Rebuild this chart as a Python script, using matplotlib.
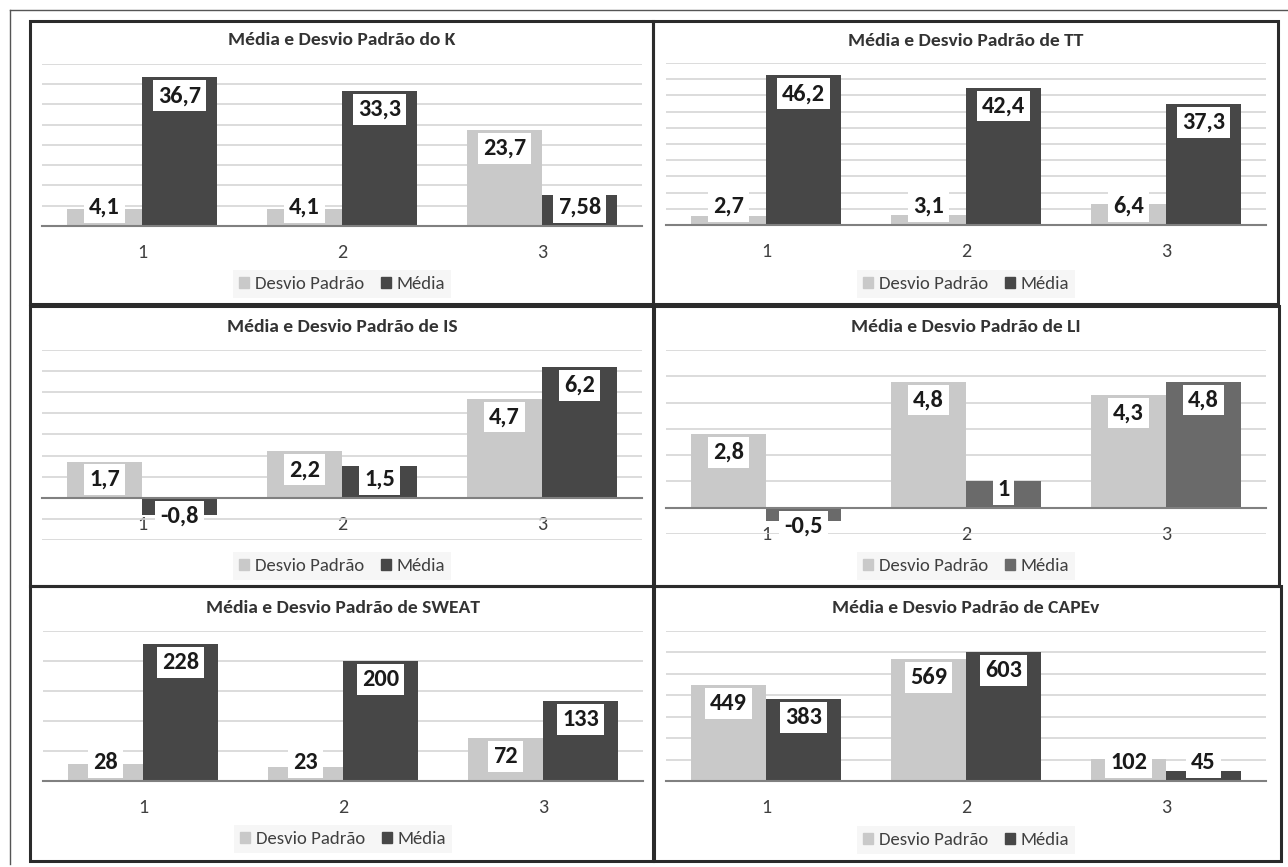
import matplotlib
matplotlib.use("Agg")
import matplotlib.pyplot as plt
from matplotlib import font_manager
from matplotlib.patches import Rectangle, Patch
from matplotlib.lines import Line2D

_installed = {f.name for f in font_manager.fontManager.ttflist}
_base = next((n for n in ('Carlito', 'Lato') if n in _installed), 'DejaVu Sans')
plt.rcParams['font.family'] = [_base, 'DejaVu Sans']

# ---- data -------------------------------------------------------------
categories = ['1', '2', '3']
series_names = ['Desvio Padrão', 'Média']

k_dp = [4.1, 4.1, 23.7]
k_media = [36.7, 33.3, 7.58]

tt_dp = [2.7, 3.1, 6.4]
tt_media = [46.2, 42.4, 37.3]

is_dp = [1.7, 2.2, 4.7]
is_media = [-0.8, 1.5, 6.2]

li_dp = [2.8, 4.8, 4.3]
li_media = [-0.5, 1, 4.8]

sweat_dp = [28, 23, 72]
sweat_media = [228, 200, 133]

cape_dp = [449, 569, 102]
cape_media = [383, 603, 45]

titles = ['Média e Desvio Padrão do K', 'Média e Desvio Padrão de TT',
          'Média e Desvio Padrão de IS', 'Média e Desvio Padrão de LI',
          'Média e Desvio Padrão de SWEAT', 'Média e Desvio Padrão de CAPEv']

# ---- styling ----------------------------------------------------------
W, H = 1288, 867
DPI = 100
C_DP = '#c9c9c9'
C_MEDIA = '#474747'
C_MEDIA_LI = '#6a6a6a'
C_GRID = '#d5d5d5'
C_AXIS = '#808080'
C_TEXT = '#404040'
C_TITLE = '#333333'

fig = plt.figure(figsize=(W / DPI, H / DPI), dpi=DPI, facecolor='white')


def fx(px):
    return px / W


def fy(py):
    return 1 - py / H


# panel layout in pixels: axes box, frame box, title y, legend y, y-range, step
panels = [
    dict(dp=k_dp, me=k_media, title=titles[0], ax=(42, 64, 642, 226),
         frame=(30, 21, 653, 304), ty=40, ly=284, ylim=(0, 40), step=5, cm=C_MEDIA),
    dict(dp=tt_dp, me=tt_media, title=titles[1], ax=(666, 63, 1266, 225),
         frame=(653, 21, 1278, 304), ty=41, ly=284, ylim=(0, 50), step=5, cm=C_MEDIA),
    dict(dp=is_dp, me=is_media, title=titles[2], ax=(42, 350, 642, 540),
         frame=(30, 306, 653, 586), ty=327, ly=566, ylim=(-2, 7), step=1, cm=C_MEDIA),
    dict(dp=li_dp, me=li_media, title=titles[3], ax=(666, 350, 1266, 534),
         frame=(654, 306, 1279, 586), ty=327, ly=566, ylim=(-1, 6), step=1, cm=C_MEDIA_LI),
    dict(dp=sweat_dp, me=sweat_media, title=titles[4], ax=(43, 631, 643, 781),
         frame=(30, 586, 653, 861), ty=608, ly=839, ylim=(0, 250), step=50, cm=C_MEDIA),
    dict(dp=cape_dp, me=cape_media, title=titles[5], ax=(666, 631, 1266, 781),
         frame=(654, 586, 1281, 861), ty=608, ly=840, ylim=(0, 700), step=100, cm=C_MEDIA),
]

BAR_W = 0.375
LABEL_BOX_PT = 21.5   # approximate height of a value label box, points
LABEL_PAD_PT = 2.5


def fmt(v):
    return f"{v:g}".replace('.', ',')


# outer thin frame (top and left)
fig.add_artist(Line2D([fx(10), fx(1288)], [fy(10), fy(10)], color='#555555', lw=1.0))
fig.add_artist(Line2D([fx(10), fx(10)], [fy(10), fy(864)], color='#555555', lw=1.0))

for p in panels:
    x0, y0, x1, y1 = p['ax']
    ax = fig.add_axes([fx(x0), fy(y1), fx(x1) - fx(x0), fy(y0) - fy(y1)])
    ymin, ymax = p['ylim']
    ax.set_xlim(0.5, 3.5)
    ax.set_ylim(ymin, ymax)
    ticks = list(range(ymin, ymax + 1, p['step']))
    ax.set_yticks(ticks)
    ax.set_yticklabels([])
    ax.tick_params(axis='y', length=0)
    ax.yaxis.grid(True, color=C_GRID, lw=1.2, zorder=0)
    ax.set_axisbelow(True)
    for s in ('top', 'right', 'left'):
        ax.spines[s].set_visible(False)
    ax.spines['bottom'].set_position(('data', 0))
    ax.spines['bottom'].set_color(C_AXIS)
    ax.spines['bottom'].set_linewidth(1.5)
    ax.spines['bottom'].set_zorder(2.5)
    ax.set_facecolor('none')

    xs = [1, 2, 3]
    ax.set_xticks(xs)
    ax.set_xticklabels(categories, fontsize=14.5, color=C_TEXT)
    ax.tick_params(axis='x', length=0, pad=13)

    x_dp = [x - BAR_W / 2 for x in xs]
    x_me = [x + BAR_W / 2 for x in xs]
    ax.bar(x_dp, p['dp'], width=BAR_W, color=C_DP, zorder=2)
    ax.bar(x_me, p['me'], width=BAR_W, color=p['cm'], zorder=2)

    # value labels: inside the bar end, or anchored at the axis when the bar is short
    ax_h_pt = (fy(y0) - fy(y1)) * H / DPI * 72
    pt_per_unit = ax_h_pt / (ymax - ymin)
    half = LABEL_PAD_PT + LABEL_BOX_PT / 2
    for xx, vals in ((x_dp, p['dp']), (x_me, p['me'])):
        for x, v in zip(xx, vals):
            sign = 1 if v >= 0 else -1
            h_pt = abs(v) * pt_per_unit
            if h_pt >= LABEL_BOX_PT + 2 * LABEL_PAD_PT:
                xy, off = (x, v), -sign * half
            else:
                xy, off = (x, 0), sign * half
            ax.annotate(fmt(v), xy=xy, xytext=(0, off), textcoords='offset points',
                        ha='center', va='center', fontsize=17.5, fontweight='bold',
                        color='#1a1a1a', zorder=5,
                        bbox=dict(boxstyle='square,pad=0.2', fc='white', ec='none'))

    # title
    cx = (x0 + x1) / 2
    fig.text(fx(cx), fy(p['ty']), p['title'], ha='center', va='center',
             fontsize=14, fontweight='bold', color=C_TITLE)

    # legend
    handles = [Patch(color=C_DP), Patch(color=p['cm'])]
    leg = ax.legend(handles, series_names, loc='center', ncol=2,
                    bbox_to_anchor=(fx(cx), fy(p['ly'])), bbox_transform=fig.transFigure,
                    frameon=True, fancybox=False, facecolor='#f6f6f6', edgecolor='none',
                    fontsize=13.5, handlelength=0.55, handleheight=0.55, handletextpad=0.3,
                    columnspacing=0.9, borderpad=0.3, labelcolor=C_TEXT)
    leg.get_frame().set_alpha(1)

    # panel frame
    a, b, c, d = p['frame']
    fig.add_artist(Rectangle((fx(a), fy(d)), fx(c) - fx(a), fy(b) - fy(d),
                             fill=False, ec='#2b2b2b', lw=2.2,
                             transform=fig.transFigure))

fig.savefig('out.png', dpi=DPI, facecolor='white')
